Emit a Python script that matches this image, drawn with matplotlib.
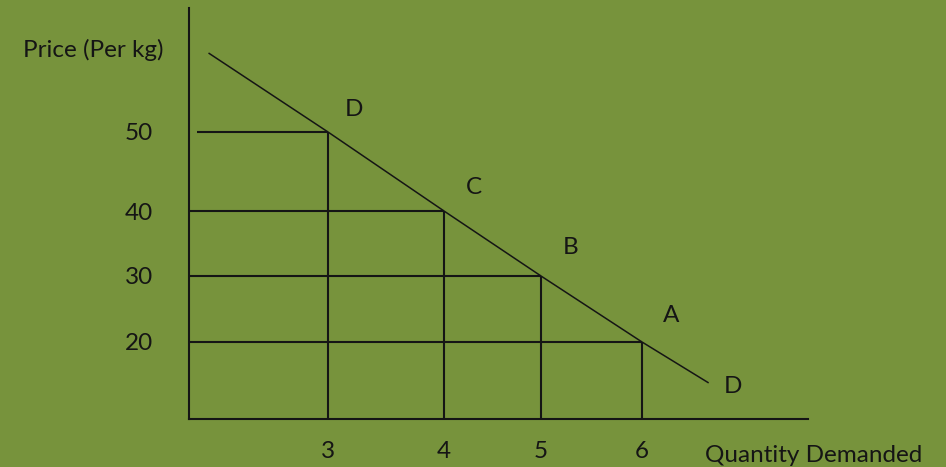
import numpy as np
import matplotlib
matplotlib.use("Agg")
import matplotlib.pyplot as plt
from matplotlib.ticker import FixedLocator, FixedFormatter

# ---- data ----
points = ["D", "C", "B", "A"]
quantity = [3, 4, 5, 6]
price = [50, 40, 30, 20]
demand_qty = [1.97, 3, 4, 5, 6, 6.66]
demand_price = [60.0, 50, 40, 30, 20, 13.8]
x_ticklabels = ["3", "4", "5", "6"]
y_ticklabels = ["50", "40", "30", "20"]

BG = "#77933C"
INK = "#151515"
FONT = "Lato"
FS = 17.5

W, H = 946, 467
fig = plt.figure(figsize=(W / 100, H / 100), dpi=100, facecolor=BG)

ax_l, ax_r, ax_t, ax_b = 189, 808, 8, 419
ax = fig.add_axes([ax_l / W, (H - ax_b) / H, (ax_r - ax_l) / W, (ax_b - ax_t) / H])
ax.set_facecolor(BG)

# non-uniform spacing of the reference (piecewise linear scale)
qk = np.array([-10, 3, 4, 5, 6, 20], float)
qp = np.array([328 - 13 * 116, 328, 444, 541, 642, 642 + 14 * 101], float)
pk = np.array([-100, 20, 30, 40, 50, 200], float)
pp = np.array([125 - 120 * 6.6, 125, 191, 256, 335, 335 + 150 * 7.9], float)

fx = lambda v: np.interp(v, qk, qp)
ix = lambda v: np.interp(v, qp, qk)
fy = lambda v: np.interp(v, pk, pp)
iy = lambda v: np.interp(v, pp, pk)
ax.set_xscale("function", functions=(fx, ix))
ax.set_yscale("function", functions=(fy, iy))
ax.set_xlim(ix(ax_l), ix(ax_r))
ax.set_ylim(iy(H - ax_b), iy(H - ax_t))

for s in ["top", "right"]:
    ax.spines[s].set_visible(False)
for s in ["left", "bottom"]:
    ax.spines[s].set_color(INK)
    ax.spines[s].set_linewidth(1.5)

# demand line
ax.plot(demand_qty, demand_price, color=INK, lw=1.1, solid_capstyle="butt")

x0 = ax.get_xlim()[0]
y0 = ax.get_ylim()[0]
for q, p in zip(quantity, price):
    start = ix(197) if p == max(price) else x0
    ax.plot([start, q], [p, p], color=INK, lw=1.5, solid_capstyle="butt")
    ax.plot([q, q], [y0, p], color=INK, lw=1.5, solid_capstyle="butt")

# point labels
offsets = {"D": (26, 23), "C": (30, 23), "B": (30, 29), "A": (29, 26)}
for name, q, p in zip(points, quantity, price):
    ax.annotate(name, (q, p), xytext=offsets[name], textcoords="offset pixels",
                ha="center", va="center", fontsize=FS, color=INK, family=FONT)
ax.annotate("D", (demand_qty[-1], demand_price[-1]), xytext=(24, -4),
            textcoords="offset pixels", ha="center", va="center",
            fontsize=FS, color=INK, family=FONT)

ax.xaxis.set_major_locator(FixedLocator(quantity))
ax.xaxis.set_major_formatter(FixedFormatter(x_ticklabels))
ax.yaxis.set_major_locator(FixedLocator(price))
ax.yaxis.set_major_formatter(FixedFormatter(y_ticklabels))
ax.tick_params(axis="x", length=0, pad=16, labelsize=FS, labelcolor=INK)
ax.tick_params(axis="y", length=0, pad=26, labelsize=FS, labelcolor=INK)
for lab in ax.get_xticklabels() + ax.get_yticklabels():
    lab.set_family(FONT)

fig.text(23 / W, 1 - 50 / H, "Price (Per kg)", ha="left", va="center",
         fontsize=FS, color=INK, family=FONT)
fig.text(705 / W, 1 - 455 / H, "Quantity Demanded", ha="left", va="center",
         fontsize=FS, color=INK, family=FONT)

fig.savefig("out.png", dpi=100, facecolor=BG)
